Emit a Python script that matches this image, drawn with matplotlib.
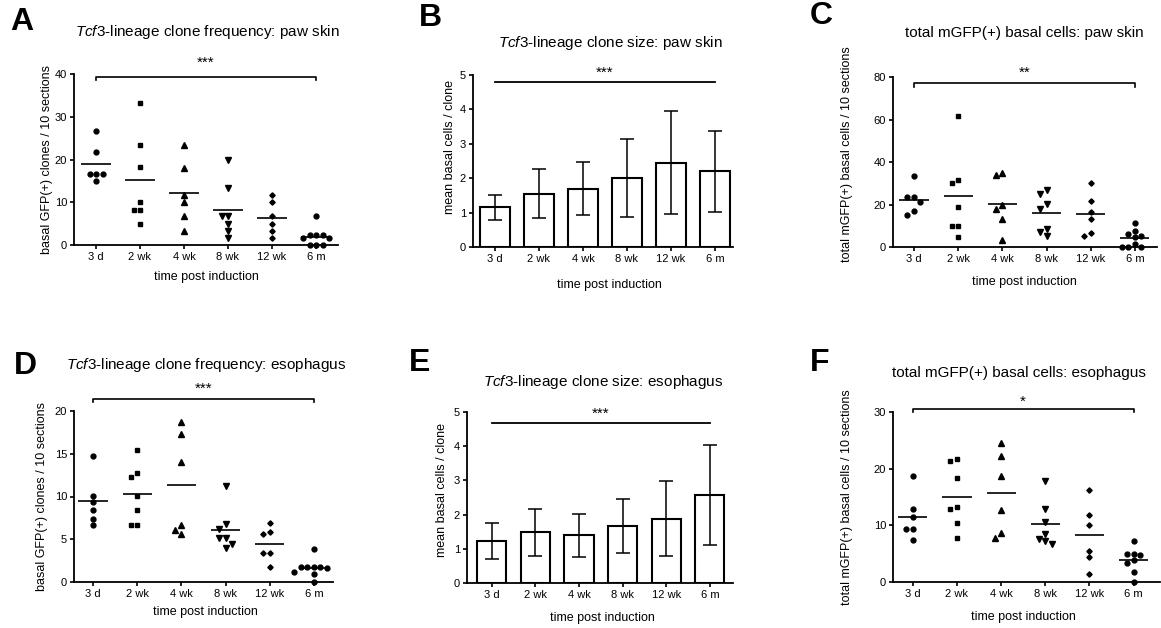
import numpy as np
import matplotlib
matplotlib.use('Agg')
import matplotlib.pyplot as plt

plt.rcParams['font.family'] = 'Liberation Sans'
plt.rcParams['mathtext.fontset'] = 'custom'
plt.rcParams['mathtext.rm'] = 'Liberation Sans'
plt.rcParams['mathtext.it'] = 'Liberation Sans:italic'

# --- data ---
times = ['3 d', '2 wk', '4 wk', '8 wk', '12 wk', '6 m']
markers = ['o', 's', '^', 'v', 'D', 'o']
marker_sizes = [3.5, 3.2, 3.7, 3.7, 2.7, 3.5]

# A: clone frequency, paw skin
paw_freq = [
    [26.7, 21.7, 16.7, 16.7, 16.7, 15.0],
    [33.3, 23.3, 18.3, 10.0, 8.3, 8.3, 5.0],
    [23.3, 18.0, 11.7, 10.0, 6.7, 3.3],
    [20.0, 13.3, 6.7, 6.7, 5.0, 3.3, 1.7],
    [11.7, 10.0, 6.7, 5.0, 3.3, 1.7],
    [6.7, 2.3, 2.3, 2.3, 1.7, 1.7, 0.0, 0.0, 0.0],
]
# B: clone size, paw skin (mean, sd)
paw_size_mean = [1.15, 1.55, 1.70, 2.00, 2.45, 2.20]
paw_size_sd = [0.36, 0.71, 0.78, 1.13, 1.50, 1.17]
# C: total mGFP+ basal cells, paw skin
paw_total = [
    [33.3, 23.5, 23.5, 21.0, 16.8, 15.2],
    [61.7, 31.7, 30.0, 19.0, 9.7, 9.7, 4.7],
    [34.8, 33.7, 19.6, 17.9, 13.2, 3.1],
    [27.0, 25.1, 20.4, 18.0, 8.5, 6.9, 5.0],
    [30.1, 21.8, 16.6, 13.2, 6.6, 5.0],
    [11.4, 7.7, 6.1, 5.2, 4.8, 1.4, 0.0, 0.0, 0.0],
]
# D: clone frequency, esophagus
eso_freq = [
    [14.75, 10.1, 9.4, 8.4, 7.35, 6.7],
    [15.4, 12.8, 12.3, 10.1, 8.4, 6.7, 6.7],
    [18.7, 17.3, 14.0, 6.7, 6.1, 5.6],
    [11.2, 6.8, 6.2, 5.1, 5.1, 4.5, 4.0],
    [6.9, 5.8, 5.6, 3.35, 3.35, 1.7],
    [3.9, 1.8, 1.7, 1.7, 1.7, 1.6, 1.2, 0.9, 0.0],
]
# E: clone size, esophagus (mean, sd)
eso_size_mean = [1.23, 1.48, 1.39, 1.68, 1.88, 2.57]
eso_size_sd = [0.52, 0.69, 0.62, 0.79, 1.10, 1.47]
# F: total mGFP+ basal cells, esophagus
eso_total = [
    [18.7, 12.8, 11.4, 9.4, 9.4, 7.4],
    [21.7, 21.3, 18.3, 13.3, 12.8, 10.5, 7.7],
    [24.6, 22.2, 18.7, 12.7, 8.6, 7.7],
    [17.8, 12.8, 10.6, 8.5, 7.6, 7.3, 6.7],
    [16.2, 11.9, 10.0, 5.5, 4.35, 1.5],
    [7.2, 5.0, 4.9, 4.8, 3.8, 3.3, 1.7, 0.0],
]

W, H = 1161, 628
fig = plt.figure(figsize=(W / 100, H / 100), dpi=100)


def px_axes(l, t, r, b):
    return fig.add_axes([l / W, 1 - b / H, (r - l) / W, (b - t) / H])


def style_axes(ax, yticks, xlim):
    for s in ('top', 'right'):
        ax.spines[s].set_visible(False)
    for s in ('left', 'bottom'):
        ax.spines[s].set_linewidth(1.3)
    ax.set_xlim(*xlim)
    ax.set_ylim(yticks[0], yticks[-1])
    ax.set_yticks(yticks)
    ax.set_xticks(range(len(times)))
    ax.set_xticklabels(times)
    ax.tick_params(direction='out', length=3, width=1.2, labelsize=8, pad=2)


def swarm_offsets(ax, vals, step_px=6.5, dist_px=5.5):
    """simple beeswarm: spread points that would overlap"""
    (x0, y0), (x1, y1) = ax.transData.transform([(0, 0), (1, 1)])
    sx, sy = x1 - x0, y1 - y0
    vals = np.asarray(vals, dtype=float)
    offs = np.zeros(len(vals))
    placed = []
    cands = [0] + [s * j for j in range(1, 8) for s in (-1, 1)]
    for i in np.argsort(-vals, kind='stable'):
        ypx = vals[i] * sy
        for c in cands:
            xp = c * step_px
            if all(np.hypot(xp - px, ypx - py) >= dist_px for px, py in placed):
                break
        placed.append((xp, ypx))
        offs[i] = xp / sx
    return offs


def scatter_panel(ax, groups):
    for i, vals in enumerate(groups):
        offs = swarm_offsets(ax, vals)
        ax.plot(i + offs, vals, ls='none', marker=markers[i], ms=marker_sizes[i],
                color='black', clip_on=False, zorder=3)
        ax.hlines(np.mean(vals), i - 0.33, i + 0.33, color='black', lw=1.2, zorder=2)


def bar_panel(ax, means, sds):
    x = np.arange(len(means))
    ax.bar(x, means, width=0.67, color='white', edgecolor='black', linewidth=1.5,
           yerr=sds, capsize=5.2, error_kw=dict(elinewidth=1.1, capthick=1.1, ecolor='black'))


def bracket(ax, y, yt, stars, drop):
    if drop:
        ax.plot([0, 0, 5, 5], [y - drop, y, y, y - drop], color='black', lw=1.2, clip_on=False)
    else:
        ax.plot([0, 5], [y, y], color='black', lw=1.3, clip_on=False)
    ax.text(2.5, yt, stars, ha='center', va='center', fontsize=11)


def labels(ax, ylabel, ycoords, xcoords):
    ax.set_ylabel(ylabel, fontsize=9, va='center', ha='center')
    ax.yaxis.set_label_coords(*ycoords)
    ax.set_xlabel('time post induction', fontsize=9, va='center', ha='center')
    ax.xaxis.set_label_coords(*xcoords)


def fig_text(x, y, s, **kw):
    fig.text(x / W, 1 - y / H, s, ha='center', va='center', **kw)


# A
ax = px_axes(74, 74, 338, 245)
style_axes(ax, [0, 10, 20, 30, 40], (-0.5, 5.5))
scatter_panel(ax, paw_freq)
bracket(ax, 39.3, 42.6, '***', 0.8)
labels(ax, 'basal GFP(+) clones / 10 sections', (-0.102, 0.5), (0.5, -0.187))

# B
ax = px_axes(473, 75, 733, 247)
style_axes(ax, [0, 1, 2, 3, 4, 5], (-0.5, 5.41))
bar_panel(ax, paw_size_mean, paw_size_sd)
bracket(ax, 4.8, 5.05, '***', 0)
labels(ax, 'mean basal cells / clone', (-0.088, 0.58), (0.523, -0.22))

# C
ax = px_axes(893, 77, 1157, 247)
style_axes(ax, [0, 20, 40, 60, 80], (-0.475, 5.5))
scatter_panel(ax, paw_total)
bracket(ax, 77, 82, '**', 1.5)
labels(ax, 'total mGFP(+) basal cells / 10 sections', (-0.174, 0.547), (0.496, -0.206))

# D
ax = px_axes(74, 411, 333, 582)
style_axes(ax, [0, 5, 10, 15, 20], (-0.43, 5.43))
scatter_panel(ax, eso_freq)
bracket(ax, 21.4, 22.6, '***', 0.4)
labels(ax, 'basal GFP(+) clones / 10 sections', (-0.124, 0.5), (0.506, -0.175))

# E
ax = px_axes(467, 412, 733, 583)
style_axes(ax, [0, 1, 2, 3, 4, 5], (-0.57, 5.53))
bar_panel(ax, eso_size_mean, eso_size_sd)
bracket(ax, 4.67, 4.96, '***', 0)
labels(ax, 'mean basal cells / clone', (-0.094, 0.544), (0.51, -0.205))

# F
ax = px_axes(893, 412, 1160, 582)
style_axes(ax, [0, 10, 20, 30], (-0.45, 5.6))
scatter_panel(ax, eso_total)
bracket(ax, 30.5, 31.8, '*', 0.55)
labels(ax, 'total mGFP(+) basal cells / 10 sections', (-0.172, 0.5), (0.49, -0.206))

# titles and panel letters
fig_text(207, 32, r'$\mathit{Tcf3}$-lineage clone frequency: paw skin', fontsize=11)
fig_text(610, 43, r'$\mathit{Tcf3}$-lineage clone size: paw skin', fontsize=11)
fig_text(1024, 33, 'total mGFP(+) basal cells: paw skin', fontsize=11)
fig_text(206, 365, r'$\mathit{Tcf3}$-lineage clone frequency: esophagus', fontsize=11)
fig_text(603, 382, r'$\mathit{Tcf3}$-lineage clone size: esophagus', fontsize=11)
fig_text(1019, 373, 'total mGFP(+) basal cells: esophagus', fontsize=11)

for letter, (x, y) in zip('ABCDEF', [(22, 22), (430, 18), (821, 16), (25, 366), (420, 363), (820, 363)]):
    fig_text(x, y, letter, fontsize=23, fontweight='bold')

fig.savefig('out.png', dpi=100)
